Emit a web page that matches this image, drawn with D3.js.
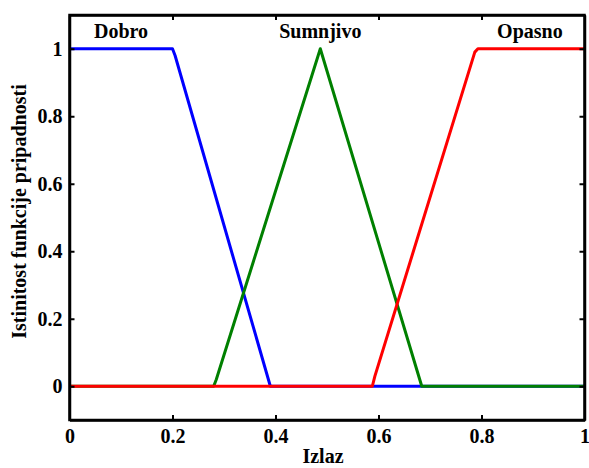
<!DOCTYPE html>
<html><head><meta charset="utf-8">
<script src="https://cdn.jsdelivr.net/npm/d3@7"></script>
<style>body{margin:0;background:#fff}svg{display:block}text{font-family:"Liberation Serif","Times New Roman",serif;font-weight:bold}</style>
</head><body><svg id="c" width="589" height="468"></svg>
<script>
const xTicks = [0, 0.2, 0.4, 0.6, 0.8, 1];
const yTicks = [0, 0.2, 0.4, 0.6, 0.8, 1];
const xTickLabels = ["0", "0.2", "0.4", "0.6", "0.8", "1"];
const yTickLabels = ["0", "0.2", "0.4", "0.6", "0.8", "1"];
const seriesNames = ["Dobro", "Sumnjivo", "Opasno"];
const dobroX = [0, 0.2, 0.205, 0.39, 1];
const dobroY = [1, 1, 0.98, 0, 0];
const sumnjivoX = [0, 0.28, 0.285, 0.487, 0.684, 1];
const sumnjivoY = [0, 0, 0.02, 1, 0, 0];
const opasnoX = [0, 0.588, 0.593, 0.787, 0.793, 1];
const opasnoY = [0, 0, 0.03, 0.99, 1, 1];
const labelX = [0.1, 0.487, 0.894];
const labelY = [1.033, 1.033, 1.033];
const colors = ["#0000ff", "#008000", "#ff0000"];

const svg = d3.select("#c");
const L = 69.5, R = 584.5, T = 15, B = 420;
const x = d3.scaleLinear().domain([0, 1]).range([L, R]);
const y = d3.scaleLinear().domain([-0.1, 1.1]).range([B, T]);

const series = [[dobroX, dobroY], [sumnjivoX, sumnjivoY], [opasnoX, opasnoY]];
const line = d3.line().x(d => x(d[0])).y(d => y(d[1]));
series.forEach((s, i) => {
  const pts = s[0].map((v, j) => [v, s[1][j]]);
  svg.append("path").attr("d", line(pts)).attr("fill", "none")
    .attr("stroke", colors[i]).attr("stroke-width", 3).attr("stroke-linejoin", "round");
});

// axes
const fs = "20px";
const ax = svg.append("g").attr("transform", `translate(0,${B})`)
  .call(d3.axisBottom(x).tickValues(xTicks).tickFormat((d, i) => xTickLabels[i]).tickSizeInner(-5).tickSizeOuter(0).tickPadding(9));
const ay = svg.append("g").attr("transform", `translate(${L},0)`)
  .call(d3.axisLeft(y).tickValues(yTicks).tickFormat((d, i) => yTickLabels[i]).tickSizeInner(-5).tickSizeOuter(0).tickPadding(7));
const at = svg.append("g").attr("transform", `translate(0,${T})`)
  .call(d3.axisTop(x).tickValues(xTicks).tickFormat("").tickSizeInner(-5).tickSizeOuter(0));
const ar = svg.append("g").attr("transform", `translate(${R},0)`)
  .call(d3.axisRight(y).tickValues(yTicks).tickFormat("").tickSizeInner(-5).tickSizeOuter(0));
[ax, ay, at, ar].forEach(g => {
  g.select(".domain").attr("stroke", "#000").attr("stroke-width", 2.5);
  g.selectAll(".tick line").attr("stroke", "#000").attr("stroke-width", 2);
  g.selectAll(".tick text").attr("fill", "#000").style("font-size", fs)
    .style("font-family", '"Liberation Serif","Times New Roman",serif').style("font-weight", "bold");
});
svg.append("rect").attr("x", L).attr("y", T).attr("width", R - L).attr("height", B - T)
  .attr("fill", "none").attr("stroke", "#000").attr("stroke-width", 2.5);

// series labels
seriesNames.forEach((n, i) => {
  svg.append("text").attr("x", x(labelX[i])).attr("y", y(labelY[i]))
    .attr("text-anchor", "middle").style("font-size", fs).text(n);
});

svg.append("text").attr("x", 323).attr("y", 463).attr("text-anchor", "middle")
  .style("font-size", fs).text("Izlaz");
svg.append("text").attr("transform", `translate(26,${(T + B) / 2 - 6}) rotate(-90)`)
  .attr("text-anchor", "middle").style("font-size", fs).text("Istinitost funkcije pripadnosti");
</script></body></html>
